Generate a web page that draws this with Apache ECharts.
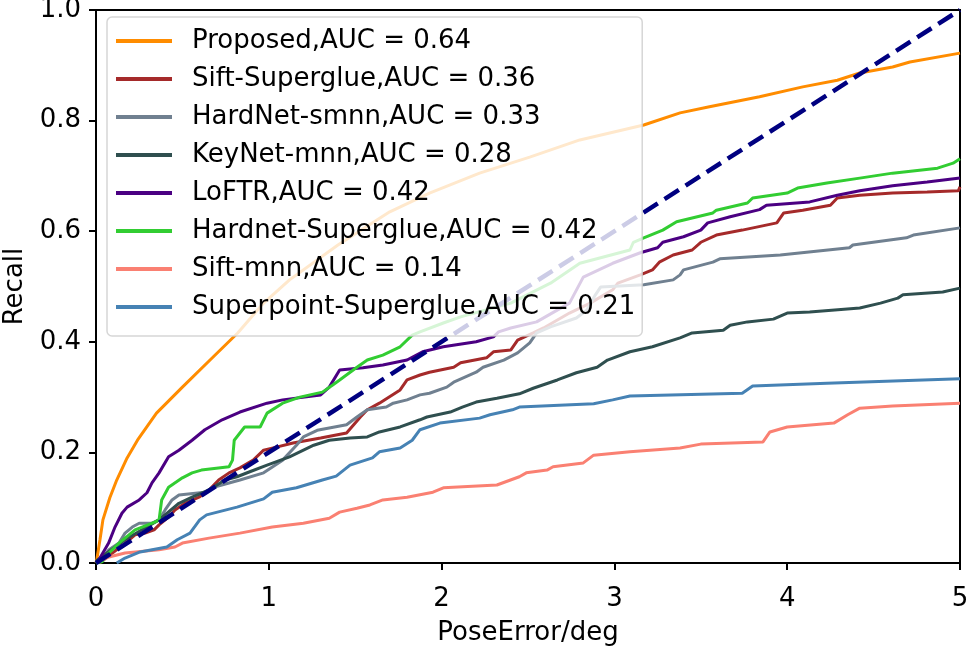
<!DOCTYPE html>
<html>
<head>
<meta charset="utf-8">
<script src="https://cdn.jsdelivr.net/npm/echarts@6/dist/echarts.min.js"></script>
<style>
html,body{margin:0;padding:0;background:#fff;}
#chart{width:968px;height:649px;}
</style>
</head>
<body>
<div id="chart"></div>
<script>
// ---- data (x = PoseError/deg, y = Recall) ----
const xTicks = [0, 1, 2, 3, 4, 5];
const yTicks = [0.0, 0.2, 0.4, 0.6, 0.8, 1.0];

const seriesNames = [
  'Proposed,AUC = 0.64',
  'Sift-Superglue,AUC = 0.36',
  'HardNet-smnn,AUC = 0.33',
  'KeyNet-mnn,AUC = 0.28',
  'LoFTR,AUC = 0.42',
  'Hardnet-Superglue,AUC = 0.42',
  'Sift-mnn,AUC = 0.14',
  'Superpoint-Superglue,AUC = 0.21'
];

const proposed = [[0,0],[0.004,0.005],[0.023,0.042],[0.04,0.078],[0.08,0.118],[0.12,0.15],[0.18,0.19],[0.24,0.222],[0.35,0.271],[0.5,0.318],[0.66,0.367],[0.82,0.416],[0.97,0.47],[1.12,0.512],[1.4,0.575],[1.7,0.635],[1.93,0.669],[2.22,0.705],[2.51,0.734],[2.8,0.765],[3.17,0.792],[3.38,0.814],[3.55,0.825],[3.84,0.843],[4.09,0.861],[4.29,0.873],[4.42,0.886],[4.61,0.897],[4.71,0.906],[5.0,0.922]];

const siftSuperglue = [[0.02,0],[0.17,0.036],[0.226,0.051],[0.284,0.054],[0.336,0.06],[0.365,0.069],[0.42,0.083],[0.457,0.096],[0.515,0.108],[0.596,0.119],[0.654,0.132],[0.71,0.15],[0.77,0.163],[0.833,0.172],[0.91,0.186],[0.97,0.204],[1.05,0.21],[1.14,0.217],[1.3,0.226],[1.45,0.235],[1.53,0.264],[1.57,0.277],[1.64,0.289],[1.76,0.313],[1.8,0.331],[1.875,0.34],[1.93,0.345],[2.07,0.354],[2.11,0.362],[2.26,0.371],[2.3,0.382],[2.4,0.385],[2.44,0.403],[2.53,0.416],[2.59,0.425],[2.74,0.452],[2.86,0.47],[2.99,0.494],[3.02,0.506],[3.15,0.521],[3.22,0.53],[3.26,0.544],[3.34,0.557],[3.45,0.566],[3.5,0.58],[3.59,0.593],[3.74,0.602],[3.94,0.615],[3.98,0.633],[4.09,0.638],[4.25,0.647],[4.29,0.66],[4.42,0.665],[4.61,0.669],[4.81,0.671],[4.99,0.673],[5.0,0.68]];

const hardnetSmnn = [[0,0],[0.017,0.002],[0.075,0.024],[0.133,0.036],[0.168,0.054],[0.21,0.065],[0.25,0.072],[0.324,0.072],[0.365,0.078],[0.4,0.096],[0.44,0.114],[0.48,0.123],[0.63,0.128],[0.67,0.136],[0.775,0.145],[0.833,0.15],[0.97,0.163],[1.08,0.186],[1.16,0.213],[1.2,0.228],[1.28,0.24],[1.45,0.25],[1.51,0.264],[1.57,0.277],[1.68,0.282],[1.72,0.289],[1.8,0.295],[1.875,0.304],[1.93,0.307],[2.03,0.318],[2.07,0.327],[2.2,0.345],[2.24,0.354],[2.36,0.367],[2.44,0.38],[2.51,0.398],[2.55,0.416],[2.63,0.427],[2.78,0.443],[2.84,0.457],[2.89,0.485],[2.92,0.499],[3.17,0.503],[3.34,0.512],[3.38,0.521],[3.4,0.53],[3.57,0.544],[3.61,0.55],[3.96,0.557],[4.36,0.57],[4.38,0.575],[4.69,0.588],[4.73,0.593],[5.0,0.606]];

const keynetMnn = [[0,0],[0.006,0.005],[0.168,0.042],[0.266,0.06],[0.365,0.078],[0.48,0.108],[0.556,0.119],[0.654,0.132],[0.746,0.15],[0.816,0.156],[0.89,0.165],[0.99,0.177],[1.12,0.192],[1.26,0.213],[1.35,0.222],[1.47,0.226],[1.57,0.228],[1.64,0.237],[1.76,0.246],[1.875,0.259],[1.915,0.264],[2.05,0.273],[2.12,0.282],[2.2,0.291],[2.32,0.298],[2.45,0.306],[2.53,0.316],[2.67,0.331],[2.78,0.344],[2.9,0.354],[2.96,0.367],[3.09,0.382],[3.22,0.391],[3.38,0.407],[3.45,0.416],[3.63,0.421],[3.67,0.43],[3.77,0.436],[3.92,0.441],[4.0,0.452],[4.13,0.454],[4.42,0.461],[4.54,0.47],[4.64,0.479],[4.67,0.485],[4.9,0.49],[5.0,0.497]];

const loftr = [[0.006,0],[0.073,0.036],[0.11,0.065],[0.15,0.09],[0.18,0.101],[0.25,0.114],[0.295,0.127],[0.324,0.145],[0.365,0.163],[0.42,0.192],[0.48,0.204],[0.556,0.222],[0.63,0.241],[0.73,0.259],[0.833,0.273],[0.99,0.289],[1.08,0.295],[1.3,0.304],[1.35,0.318],[1.41,0.349],[1.545,0.353],[1.66,0.358],[1.8,0.367],[1.89,0.382],[2.01,0.391],[2.2,0.4],[2.3,0.409],[2.33,0.418],[2.4,0.425],[2.55,0.436],[2.74,0.47],[2.82,0.517],[2.99,0.542],[3.15,0.561],[3.25,0.57],[3.28,0.58],[3.4,0.59],[3.5,0.602],[3.54,0.615],[3.67,0.626],[3.84,0.639],[3.88,0.647],[4.13,0.653],[4.29,0.665],[4.42,0.673],[4.61,0.682],[4.81,0.689],[5.0,0.696]];

const hardnetSuperglue = [[0,0],[0.035,0.002],[0.075,0.018],[0.133,0.036],[0.226,0.06],[0.34,0.074],[0.365,0.078],[0.38,0.114],[0.42,0.137],[0.5,0.154],[0.556,0.163],[0.61,0.168],[0.77,0.174],[0.79,0.186],[0.8,0.222],[0.86,0.246],[0.95,0.246],[0.99,0.271],[1.08,0.289],[1.18,0.3],[1.31,0.309],[1.37,0.322],[1.41,0.331],[1.51,0.354],[1.57,0.367],[1.66,0.376],[1.76,0.391],[1.83,0.412],[1.875,0.418],[2.01,0.434],[2.11,0.445],[2.4,0.47],[2.63,0.506],[2.8,0.542],[3.09,0.566],[3.11,0.58],[3.17,0.588],[3.28,0.602],[3.36,0.617],[3.57,0.633],[3.59,0.638],[3.77,0.651],[3.8,0.66],[4.0,0.669],[4.06,0.678],[4.23,0.687],[4.42,0.696],[4.61,0.705],[4.87,0.714],[4.96,0.723],[5.0,0.731]];

const siftMnn = [[0.035,0.005],[0.075,0.011],[0.168,0.018],[0.365,0.024],[0.457,0.029],[0.5,0.036],[0.654,0.045],[0.833,0.054],[1.02,0.065],[1.2,0.072],[1.35,0.081],[1.41,0.092],[1.51,0.099],[1.585,0.105],[1.66,0.114],[1.8,0.119],[1.95,0.128],[2.01,0.136],[2.32,0.141],[2.45,0.156],[2.49,0.163],[2.61,0.168],[2.645,0.174],[2.82,0.181],[2.88,0.195],[3.09,0.201],[3.38,0.208],[3.5,0.215],[3.86,0.219],[3.9,0.237],[4.0,0.246],[4.27,0.253],[4.35,0.268],[4.42,0.28],[4.61,0.284],[5.0,0.289]];

const superpointSuperglue = [[0.12,0],[0.168,0.009],[0.255,0.02],[0.41,0.029],[0.47,0.042],[0.544,0.054],[0.6,0.078],[0.64,0.087],[0.816,0.101],[0.97,0.116],[1.02,0.128],[1.16,0.136],[1.31,0.15],[1.39,0.157],[1.47,0.177],[1.6,0.19],[1.64,0.201],[1.76,0.208],[1.83,0.222],[1.875,0.241],[1.99,0.253],[2.22,0.262],[2.28,0.268],[2.41,0.277],[2.45,0.282],[2.88,0.288],[2.99,0.295],[3.09,0.302],[3.74,0.307],[3.8,0.32],[4.23,0.325],[5.0,0.333]];

const diagonal = [[0,0],[5,1]];

const seriesData = [proposed, siftSuperglue, hardnetSmnn, keynetMnn, loftr, hardnetSuperglue, siftMnn, superpointSuperglue];
const seriesColors = ['#ff8c00','#a52a2a','#708090','#2f4f4f','#4b0082','#32cd32','#fa8072','#4682b4'];

const FONT = 'DejaVu Sans';
const chart = echarts.init(document.getElementById('chart'), null, {renderer:'canvas'});

const series = seriesData.map((d, i) => ({
  name: seriesNames[i],
  type: 'line',
  data: d,
  showSymbol: false,
  symbol: 'none',
  color: seriesColors[i],
  lineStyle: {width: 3, color: seriesColors[i]},
  z: 2,
  animation: false
}));
series.push({
  name: 'diagonal',
  type: 'line',
  data: diagonal,
  showSymbol: false,
  symbol: 'none',
  color: '#000080',
  lineStyle: {width: 4.5, color: '#000080', type: [17, 8]},
  z: 3,
  animation: false
});

chart.setOption({
  animation: false,
  backgroundColor: '#fff',
  grid: {left: 96, right: 8, top: 10, bottom: 86, outerBoundsMode: 'none', containLabel: false, show: true, borderColor: '#000', borderWidth: 2, backgroundColor: 'transparent'},
  legend: {
    data: seriesNames,
    orient: 'vertical',
    left: 107,
    top: 17,
    itemWidth: 56,
    itemHeight: 4,
    itemGap: 12,
    icon: 'rect',
    padding: [11, 7, 16, 9],
    backgroundColor: 'rgba(255,255,255,0.8)',
    borderColor: 'rgba(204,204,204,0.8)',
    borderWidth: 1.5,
    borderRadius: 5,
    selectedMode: false,
    z: 10,
    textStyle: {fontFamily: FONT, fontSize: 26, color: '#000', lineHeight: 26, padding: [0, 0, 0, 15]}
  },
  xAxis: {
    type: 'value',
    min: xTicks[0],
    max: xTicks[xTicks.length - 1],
    interval: 1,
    name: 'PoseError/deg',
    nameLocation: 'middle',
    nameGap: 57,
    nameMoveOverlap: false,
    nameTextStyle: {fontFamily: FONT, fontSize: 26, color: '#000', verticalAlign: 'top'},
    axisLine: {show: true, lineStyle: {color: '#000', width: 2}},
    axisTick: {show: true, inside: false, length: 7, lineStyle: {color: '#000', width: 2}},
    axisLabel: {fontFamily: FONT, fontSize: 26, color: '#000', margin: 23},
    splitLine: {show: false}
  },
  yAxis: {
    type: 'value',
    min: yTicks[0],
    max: yTicks[yTicks.length - 1],
    interval: 0.2,
    name: 'Recall',
    nameLocation: 'middle',
    nameRotate: 90,
    nameGap: 68,
    nameMoveOverlap: false,
    nameTextStyle: {fontFamily: FONT, fontSize: 26, color: '#000'},
    axisLine: {show: true, lineStyle: {color: '#000', width: 2}},
    axisTick: {show: true, inside: false, length: 7, lineStyle: {color: '#000', width: 2}},
    axisLabel: {fontFamily: FONT, fontSize: 26, color: '#000', margin: 15, formatter: v => v.toFixed(1)},
    splitLine: {show: false}
  },
  series: series
});
</script>
</body>
</html>
